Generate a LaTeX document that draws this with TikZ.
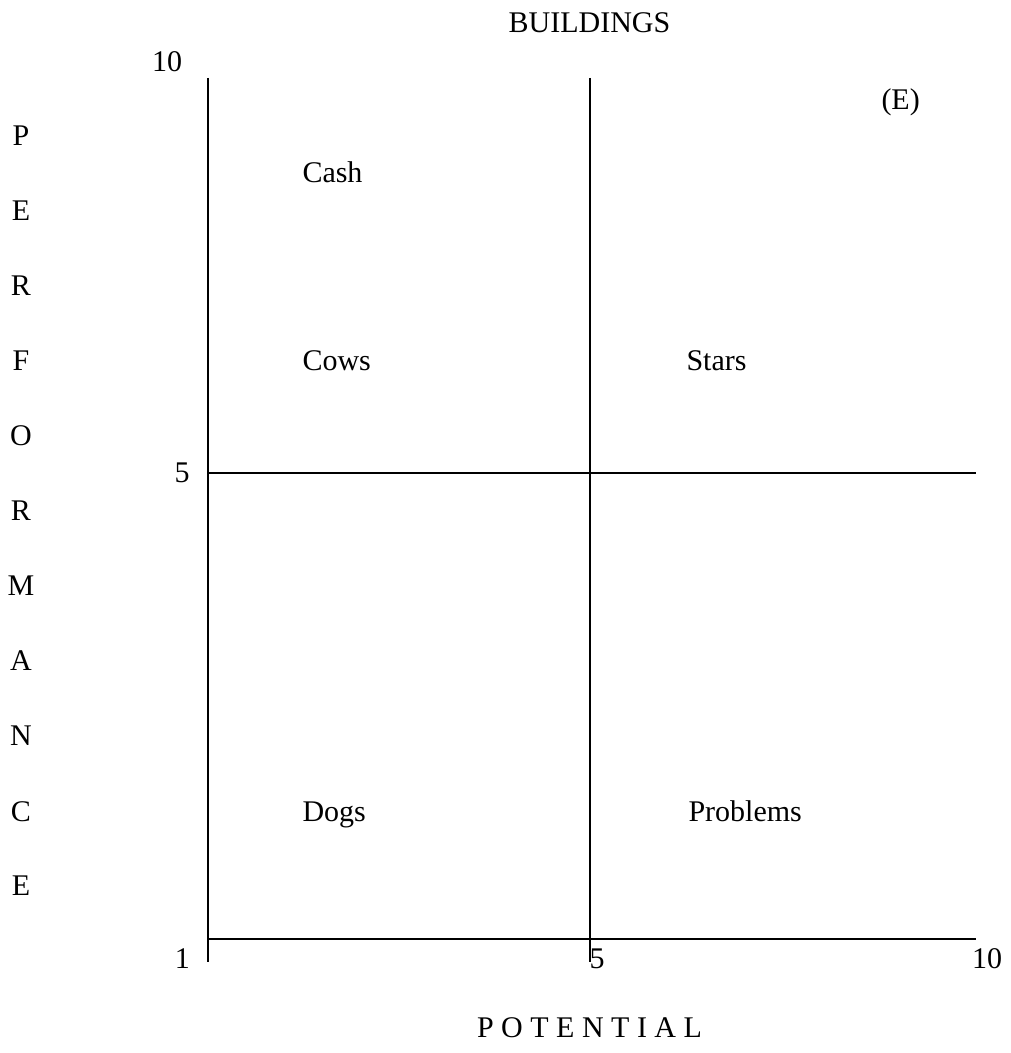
\documentclass[tikz,border=0pt]{standalone}
\usepackage{fontspec}
\setmainfont{Liberation Serif}
\begin{document}
\begin{tikzpicture}[x=20pt,y=20pt,
  every node/.style={inner sep=0pt,font=\fontsize{12}{14}\selectfont},
  quad/.style={anchor=base west},
  tick/.style={anchor=base},
  axis/.style={line width=0.8pt}]
\useasboundingbox (0,0) rectangle (20.22,21.06);

% titles
\node[tick] (title) at (11.79,20.40) {BUILDINGS};
\node[tick] (xlabel) at (11.79,0.30) {P O T E N T I A L};
\foreach \l [count=\i from 0] in {P,E,R,F,O,R,M,A,N,C,E}
  \node[tick] (ylab\i) at (0.42,18.14-1.5*\i) {\l};
\node[quad] (tag) at (17.62,18.86) {(E)};

% grid lines
\coordinate (lt) at (4.16,19.50);
\coordinate (lb) at (4.16,1.82);
\coordinate (mt) at (11.80,19.50);
\coordinate (mb) at (11.80,1.82);
\coordinate (hl) at (4.16,11.60);
\coordinate (hr) at (19.52,11.60);
\coordinate (bl) at (4.16,2.28);
\coordinate (br) at (19.52,2.28);
\draw[axis] (lt) -- (lb);
\draw[axis] (mt) -- (mb);
\draw[axis] (hl) -- (hr);
\draw[axis] (bl) -- (br);

% scale values
\node[tick] (ytop) at (3.34,19.62) {10};
\node[tick] (ymid) at (3.64,11.40) {5};
\node[tick] (xlow) at (3.65,1.70) {1};
\node[tick] (xmid) at (11.94,1.70) {5};
\node[tick] (xtop) at (19.74,1.70) {10};

% quadrants
\node[quad] (cash) at (6.04,17.40) {Cash};
\node[quad] (cows) at (6.04,13.64) {Cows};
\node[quad] (stars) at (13.72,13.64) {Stars};
\node[quad] (dogs) at (6.04,4.64) {Dogs};
\node[quad] (probs) at (13.76,4.64) {Problems};
\end{tikzpicture}
\end{document}
